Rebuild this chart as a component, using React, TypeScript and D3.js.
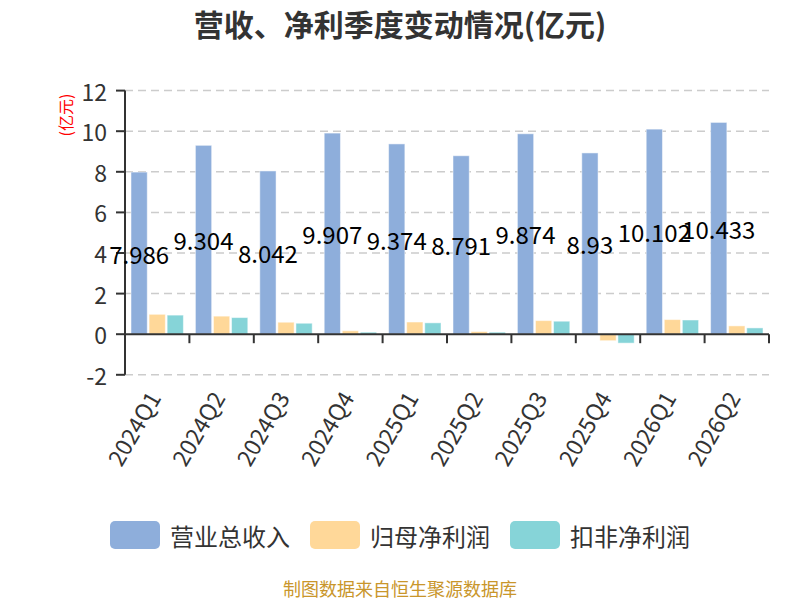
import React from 'react';
import * as d3 from 'd3';

const quarters = ['2024Q1', '2024Q2', '2024Q3', '2024Q4', '2025Q1', '2025Q2', '2025Q3', '2025Q4', '2026Q1', '2026Q2'];
const revenue = [7.986, 9.304, 8.042, 9.907, 9.374, 8.791, 9.874, 8.93, 10.102, 10.433];
const netProfit = [0.98, 0.89, 0.59, 0.17, 0.6, 0.13, 0.67, -0.32, 0.72, 0.41];
const deductedProfit = [0.94, 0.82, 0.54, 0.1, 0.56, 0.1, 0.64, -0.44, 0.7, 0.31];
const seriesNames = ['营业总收入', '归母净利润', '扣非净利润'];
const seriesColors = ['#8eaedb', '#ffd899', '#86d4d8'];
const yTicks = [-2, 0, 2, 4, 6, 8, 10, 12];

const width = 800;
const height = 600;
const font = '"Noto Sans CJK SC", "Noto Sans", sans-serif';

const plotLeft = 125;
const plotRight = 769;

export default function App() {
  const seriesValues = [revenue, netProfit, deductedProfit];

  const x = d3.scaleBand<string>().domain(quarters).range([plotLeft, plotRight]);
  const xInner = d3.scaleBand<string>()
    .domain(seriesNames)
    .range([6, x.bandwidth() - 6])
    .paddingInner(0.1);
  const y = d3.scaleLinear().domain([-2, 12]).range([374.8, 90.6]);

  return (
    <div style={{ position: 'absolute', left: 0, top: 0 }}>
      <svg width={width} height={height} style={{ display: 'block', fontFamily: font }}>
        <rect width={width} height={height} fill="#fff" />

        <text x={400} y={23} textAnchor="middle" dominantBaseline="central"
          fontSize={30} fontWeight="bold" fill="#333">营收、净利季度变动情况(亿元)</text>

        <text transform={`translate(65,115) rotate(-90)`} textAnchor="middle" dominantBaseline="central"
          fontSize={16} fill="#f00">(亿元)</text>

        {/* grid lines */}
        {yTicks.filter(t => t !== 0).map(t => (
          <line key={t} x1={plotLeft} x2={plotRight} y1={y(t)} y2={y(t)}
            stroke="#ccc" strokeWidth={1.5} strokeDasharray="8,5" />
        ))}

        {/* bars */}
        {quarters.map((q, i) => (
          <g key={q} transform={`translate(${x(q)},0)`}>
            {seriesNames.map((s, j) => {
              const v = seriesValues[j][i];
              const y0 = y(0);
              const yv = y(v);
              return (
                <rect key={s} x={xInner(s)} width={xInner.bandwidth()}
                  y={Math.min(y0, yv)} height={Math.abs(yv - y0)}
                  fill={seriesColors[j]} stroke="#fff" strokeOpacity={0.5} strokeWidth={1} />
              );
            })}
          </g>
        ))}

        {/* x axis on zero */}
        <line x1={plotLeft} x2={plotRight} y1={y(0)} y2={y(0)} stroke="#333" strokeWidth={2} />
        {quarters.map(q => (
          <line key={q} x1={(x(q) as number) + x.bandwidth()} x2={(x(q) as number) + x.bandwidth()}
            y1={y(0)} y2={y(0) + 9} stroke="#333" strokeWidth={2} />
        ))}

        {/* y axis */}
        <line x1={plotLeft} x2={plotLeft} y1={y(12)} y2={y(-2)} stroke="#333" strokeWidth={2} />
        {yTicks.map(t => (
          <g key={t}>
            <line x1={plotLeft - 9} x2={plotLeft} y1={y(t)} y2={y(t)} stroke="#333" strokeWidth={2} />
            <text x={107} y={y(t)} textAnchor="end" dominantBaseline="central" fontSize={23} fill="#333">{t}</text>
          </g>
        ))}

        {/* category labels */}
        {quarters.map(q => (
          <text key={q} transform={`translate(${(x(q) as number) + x.bandwidth() / 2 - 4},393) rotate(-60)`}
            textAnchor="end" dominantBaseline="central" fontSize={23} fill="#333">{q}</text>
        ))}

        {/* revenue value labels */}
        {quarters.map((q, i) => (
          <text key={q} x={(x(q) as number) + (xInner(seriesNames[0]) as number) + xInner.bandwidth() / 2}
            y={(y(0) + y(revenue[i])) / 2} textAnchor="middle" dominantBaseline="central"
            fontSize={24} fill="#000">{revenue[i]}</text>
        ))}

        {/* legend */}
        {seriesNames.map((s, j) => (
          <g key={s} transform={`translate(${110 + j * 200},535)`}>
            <rect x={0} y={-14} width={50} height={28} rx={5} fill={seriesColors[j]} />
            <text x={60} y={0} dominantBaseline="central" fontSize={24} fill="#333">{s}</text>
          </g>
        ))}

        <text x={400} y={588} textAnchor="middle" dominantBaseline="central" fontSize={18} fill="#c9962b">
          制图数据来自恒生聚源数据库
        </text>
      </svg>
    </div>
  );
}
